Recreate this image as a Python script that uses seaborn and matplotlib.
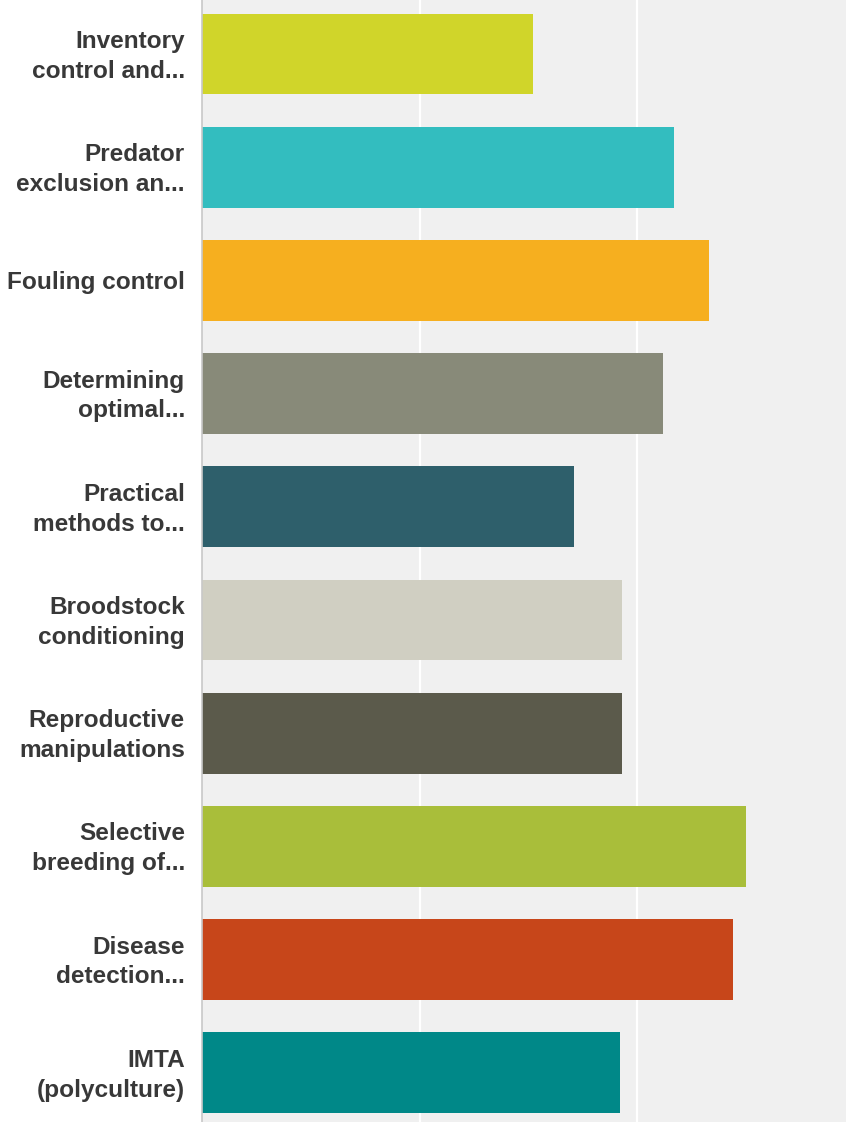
import matplotlib
matplotlib.use("Agg")
import matplotlib.pyplot as plt
import matplotlib.transforms as mtransforms
import seaborn as sns
import pandas as pd

# Survey topics (labels as shown, truncated by the survey tool)
topics = [
    "Inventory\ncontrol and...",
    "Predator\nexclusion an...",
    "Fouling control",
    "Determining\noptimal...",
    "Practical\nmethods to...",
    "Broodstock\nconditioning",
    "Reproductive\nmanipulations",
    "Selective\nbreeding of...",
    "Disease\ndetection...",
    "IMTA\n(polyculture)",
]

# Weighted average score per topic
scores = [1.52, 2.17, 2.33, 2.12, 1.71, 1.93, 1.93, 2.50, 2.44, 1.92]

bar_colors = [
    "#D0D52A", "#33BDBF", "#F6AF1F", "#888A79", "#2E5F6B",
    "#D0CFC2", "#5B5A4B", "#A9BE3A", "#C7461A", "#008888",
]

df = pd.DataFrame({"topic": topics, "score": scores})

sns.set_theme(style="white")
plt.rcParams["font.family"] = ["Liberation Sans", "DejaVu Sans"]

W, H = 846, 1122
fig = plt.figure(figsize=(W / 100, H / 100), dpi=100)
left = 202.3 / W
ax = fig.add_axes([left, 0.0, 1.0 - left, 1.0])
ax.set_facecolor("#F0F0F0")

sns.barplot(
    data=df, x="score", y="topic", hue="topic", palette=bar_colors,
    order=topics, hue_order=topics, width=0.715, legend=False,
    saturation=1.0, ax=ax, zorder=3, linewidth=0,
)

ax.set_xlim(0, (W - 202.3) / 217.3)
ax.set_ylim(9.435, -0.477)
ax.set_xticks([1, 2])
ax.set_xticklabels([])
ax.grid(axis="x", color="white", linewidth=1.6, zorder=1)
ax.set_axisbelow(True)
ax.set_xlabel("")
ax.set_ylabel("")

for side in ("top", "right", "bottom"):
    ax.spines[side].set_visible(False)
ax.spines["left"].set_color("#C8C8C8")
ax.spines["left"].set_linewidth(1.2)
ax.spines["left"].set_zorder(4)

ax.tick_params(axis="y", length=0, pad=12.5)
ax.tick_params(axis="x", length=0)
lift = mtransforms.ScaledTranslation(0, 3.5 / 100, fig.dpi_scale_trans)
for lab in ax.get_yticklabels():
    lab.set_fontsize(17.6)
    lab.set_fontweight("bold")
    lab.set_color("#383838")
    lab.set_horizontalalignment("right")
    lab.set_multialignment("right")
    lab.set_linespacing(1.38)
    if "\n" in lab.get_text():
        lab.set_transform(lab.get_transform() + lift)

fig.savefig("out.png", dpi=100, facecolor="white")
